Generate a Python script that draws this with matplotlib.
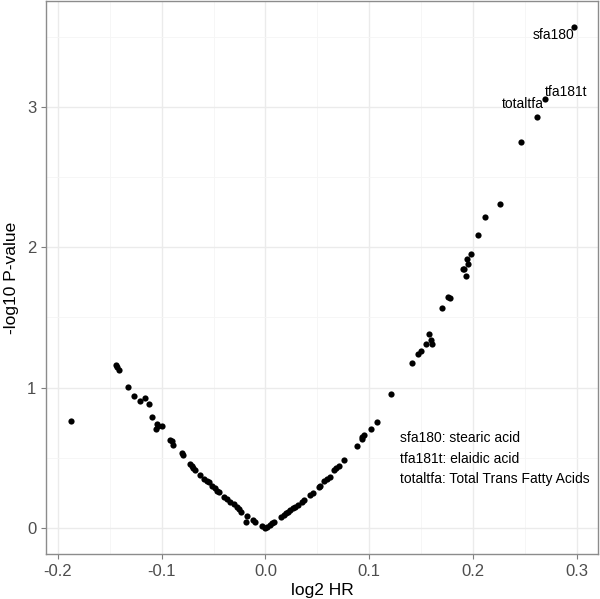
import numpy as np
import matplotlib
matplotlib.use("Agg")
from matplotlib import pyplot as plt

plt.rcParams["font.family"] = ["Liberation Sans", "DejaVu Sans"]

# log2 HR and -log10 P for each fatty acid
log2_hr = [
    -0.1875, -0.1436, -0.1426, -0.1410, -0.1320, -0.1263, -0.1208, -0.1160,
    -0.1119, -0.1096, -0.1058, -0.1048, -0.1032, -0.1000, -0.0923, -0.0904,
    -0.0891, -0.0801, -0.0791, -0.0728, -0.0712, -0.0695, -0.0680, -0.0635,
    -0.0593, -0.0567, -0.0545, -0.0513, -0.0490, -0.0465, -0.0445, -0.0401,
    -0.0368, -0.0337, -0.0305, -0.0279, -0.0256, -0.0234, -0.0192, -0.0176,
    -0.0122, -0.0096, -0.0030, -0.0007, 0.0016, 0.0041, 0.0064, 0.0087,
    0.0154, 0.0176, 0.0199, 0.0221, 0.0240, 0.0266, 0.0288, 0.0311,
    0.0353, 0.0375, 0.0433, 0.0455, 0.0513, 0.0529, 0.0567, 0.0593,
    0.0618, 0.0657, 0.0683, 0.0705, 0.0753, 0.0881, 0.0930, 0.0933,
    0.0945, 0.1016, 0.1074, 0.1212, 0.1417, 0.1474, 0.1503, 0.1545,
    0.1577, 0.1593, 0.1609, 0.1705, 0.1763, 0.1779, 0.1900, 0.1913,
    0.1930, 0.1939, 0.1955, 0.1981, 0.2045, 0.2119, 0.2260, 0.2462,
    0.2618, 0.2692, 0.2974,
]
neg_log10_p = [
    0.763, 1.163, 1.147, 1.123, 1.002, 0.940, 0.903, 0.926,
    0.884, 0.789, 0.708, 0.739, 0.727, 0.725, 0.625, 0.618,
    0.592, 0.531, 0.517, 0.455, 0.441, 0.429, 0.414, 0.379,
    0.346, 0.336, 0.327, 0.299, 0.282, 0.265, 0.254, 0.222,
    0.206, 0.185, 0.168, 0.151, 0.133, 0.116, 0.045, 0.085,
    0.057, 0.045, 0.014, 0.002, 0.009, 0.021, 0.033, 0.045,
    0.080, 0.092, 0.104, 0.116, 0.128, 0.140, 0.151, 0.163,
    0.187, 0.199, 0.235, 0.251, 0.289, 0.299, 0.336, 0.348,
    0.365, 0.412, 0.429, 0.443, 0.483, 0.585, 0.637, 0.649,
    0.661, 0.704, 0.756, 0.957, 1.175, 1.239, 1.260, 1.310,
    1.379, 1.336, 1.308, 1.569, 1.644, 1.637, 1.848, 1.848,
    1.798, 1.917, 1.881, 1.952, 2.087, 2.218, 2.308, 2.750,
    2.928, 3.058, 3.570,
]

# labelled points: name, x, y
labelled = [("sfa180", 0.2974, 3.570), ("tfa181t", 0.2692, 3.058), ("totaltfa", 0.2618, 2.928)]

legend_lines = ["sfa180: stearic acid", "tfa181t: elaidic acid", "totaltfa: Total Trans Fatty Acids"]

x_ticks = [-0.2, -0.1, 0.0, 0.1, 0.2, 0.3]
y_ticks = [0, 1, 2, 3]

fig = plt.figure(figsize=(6.0, 5.99), dpi=100)
ax = fig.add_axes([46 / 600, 45 / 599, 552 / 600, 553 / 599])

ax.scatter(log2_hr, neg_log10_p, s=20, color="black", linewidths=0, zorder=3)

# point labels, placed like ggplot hjust/vjust
ax.annotate(labelled[0][0], (labelled[0][1], labelled[0][2]), xytext=(0, -1), textcoords="offset points",
            ha="right", va="top", fontsize=10)
ax.annotate(labelled[1][0], (labelled[1][1], labelled[1][2]), xytext=(0, 0), textcoords="offset points",
            ha="left", va="bottom", fontsize=10)
ax.annotate(labelled[2][0], (labelled[2][1], labelled[2][2]), xytext=(5, 4), textcoords="offset points",
            ha="right", va="bottom", fontsize=10)

for i, line in enumerate(legend_lines):
    ax.text(0.1298, 0.640 - i * 0.146, line, ha="left", va="center", fontsize=10)

ax.set_xticks(x_ticks)
ax.set_xticklabels(["-0.2", "-0.1", "0.0", "0.1", "0.2", "0.3"])
ax.set_yticks(y_ticks)
ax.set_xticks(np.arange(-0.15, 0.3, 0.1), minor=True)
ax.set_yticks(np.arange(0.5, 3.6, 1.0), minor=True)
ax.set_xlim(-0.2115, 0.3205)
ax.set_ylim(-0.185, 3.753)

ax.grid(True, which="major", color="#EBEBEB", lw=1.0, zorder=0)
ax.grid(True, which="minor", color="#F5F5F5", lw=0.6, zorder=0)
ax.tick_params(which="minor", length=0)
ax.tick_params(which="major", length=3.5, width=0.8, color="#7F7F7F", labelcolor="#4D4D4D", labelsize=12)
for sp in ax.spines.values():
    sp.set_color("#8C8C8C")
    sp.set_linewidth(1.0)

ax.set_xlabel("log2 HR", fontsize=12.5, labelpad=3)
ax.set_ylabel("-log10 P-value", fontsize=12.5, labelpad=6)

fig.savefig("out.png", dpi=100)
